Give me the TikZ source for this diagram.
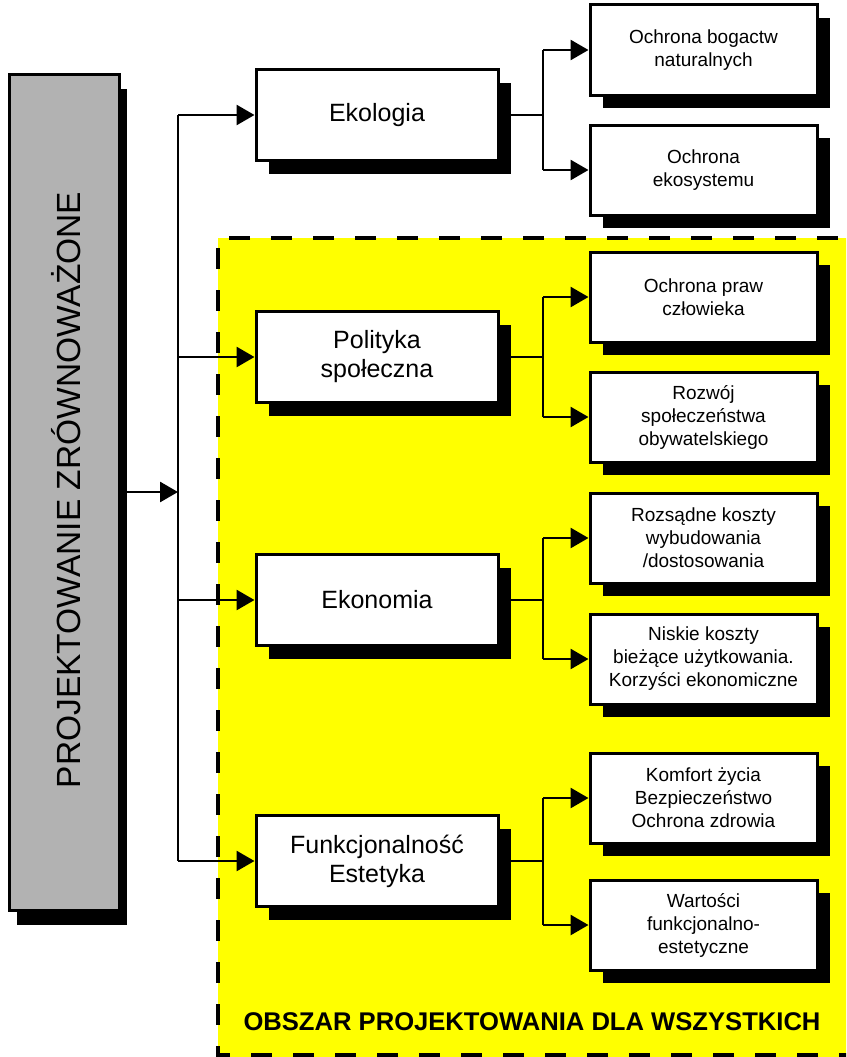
\documentclass[tikz,border=0pt]{standalone}
\usepackage{fontspec}
\setmainfont{Liberation Sans}
\usetikzlibrary{arrows.meta,shadows}
\definecolor{boxgray}{RGB}{178,178,178}
\definecolor{areayellow}{RGB}{255,255,0}
\begin{document}
\begin{tikzpicture}[x=1pt,y=-1pt,
  shbox/.style={draw=black, line width=3pt, fill=white, inner sep=0pt, align=center,
    drop shadow={shadow xshift=13pt, shadow yshift=-13pt, fill=black, opacity=1}},
  midbox/.style={shbox, minimum width=242pt, minimum height=91pt, font=\fontsize{25}{29}\selectfont},
  subbox/.style={shbox, minimum width=227pt, minimum height=90pt, font=\fontsize{19}{23}\selectfont},
  mainbox/.style={draw=black, line width=3pt, fill=boxgray, inner sep=0pt,
    minimum width=110pt, minimum height=836pt,
    drop shadow={shadow xshift=8pt, shadow yshift=-15pt, fill=black, opacity=1}},
  conn/.style={line width=2.8pt},
  arr/.style={conn, -{Triangle[length=18pt,width=20pt]}},
  areaborder/.style={line width=4.5pt, dash pattern=on 21pt off 21pt},
]
\useasboundingbox (0,0) rectangle (846,1057);
\clip (0,0) rectangle (846,1057);
\fill[white] (0,0) rectangle (846,1057);

% design-for-all area
\fill[areayellow] (218,238) rectangle (880,1080);
\draw[areaborder] (880,238) -- (218,238) -- (218,1055) -- (880,1055);
\node[font=\bfseries\fontsize{25.6}{30}\selectfont, inner sep=0pt] (obs) at (532,1022) {OBSZAR PROJEKTOWANIA DLA WSZYSTKICH};

% main box
\node[mainbox] (pz) at (64,492) {};
\node[rotate=90, font=\fontsize{33.5}{40}\selectfont, inner sep=0pt] (pzt) at (66,490) {PROJEKTOWANIE ZRÓWNOWAŻONE};

% middle boxes
\node[midbox] (eko) at (377,115) {Ekologia};
\node[midbox] (pol) at (377,357) {Polityka\\społeczna};
\node[midbox] (ekon) at (377,600) {Ekonomia};
\node[midbox] (fun) at (377,861) {Funkcjonalność\\Estetyka};

% right boxes
\node[subbox] (rb1) at (703.5,50) {Ochrona bogactw\\naturalnych};
\node[subbox] (rb2) at (703.5,170) {Ochrona\\ekosystemu};
\node[subbox] (rb3) at (703.5,297) {Ochrona praw\\człowieka};
\node[subbox] (rb4) at (703.5,417) {Rozwój\\społeczeństwa\\obywatelskiego};
\node[subbox] (rb5) at (703.5,538) {Rozsądne koszty\\wybudowania\\/dostosowania};
\node[subbox] (rb6) at (703.5,659) {Niskie koszty\\bieżące użytkowania.\\Korzyści ekonomiczne};
\node[subbox] (rb7) at (703.5,798) {Komfort życia\\Bezpieczeństwo\\Ochrona zdrowia};
\node[subbox] (rb8) at (703.5,925) {Wartości\\funkcjonalno-\\estetyczne};

% trunk
\coordinate (trunk) at (178,492);
\coordinate (bx) at (543,0);
\draw[arr] (pz.east) -- (trunk);
\draw[conn] (trunk |- eko.west) -- (trunk |- fun.west);
\foreach \m in {eko,pol,ekon,fun}{
  \draw[arr] (trunk |- \m.west) -- (\m.west);
}

% branches
\foreach \m/\a/\b in {eko/rb1/rb2, pol/rb3/rb4, ekon/rb5/rb6, fun/rb7/rb8}{
  \draw[conn] (\m.east) -- (bx |- \m.east);
  \draw[conn] (bx |- \a.west) -- (bx |- \b.west);
  \draw[arr] (bx |- \a.west) -- (\a.west);
  \draw[arr] (bx |- \b.west) -- (\b.west);
}
\end{tikzpicture}
\end{document}
